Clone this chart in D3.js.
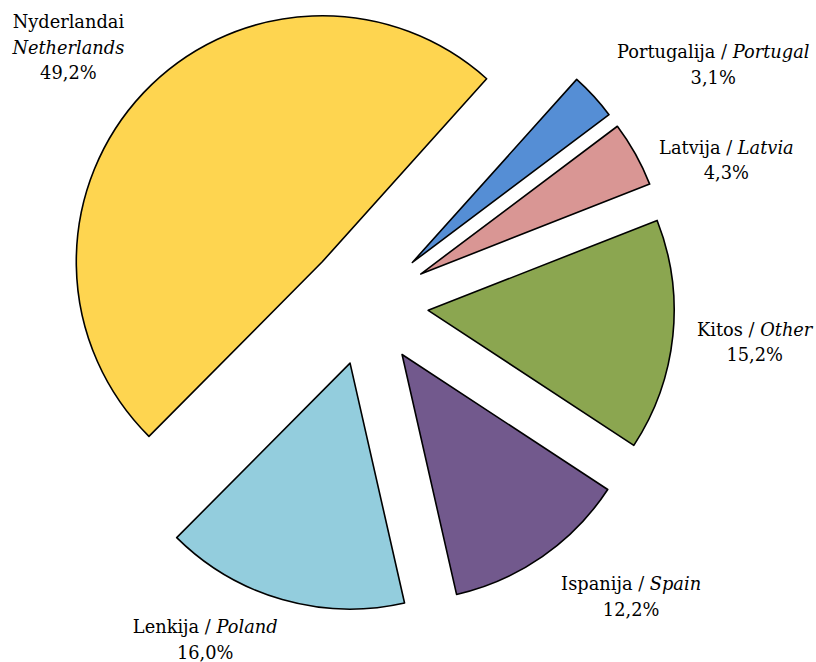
<!DOCTYPE html>
<html>
<head>
<meta charset="utf-8">
<script src="https://cdn.jsdelivr.net/npm/d3@7"></script>
<style>
  html, body { margin: 0; padding: 0; background: #fff; }
  svg { display: block; }
  text { font-family: "DejaVu Serif", "Liberation Serif", serif; font-size: 17.8px; fill: #000; }
</style>
</head>
<body>
<svg id="chart" width="816" height="662"></svg>
<script>
// Export shares by destination country (%)
const categoriesLt = ["Nyderlandai", "Portugalija", "Latvija", "Kitos", "Ispanija", "Lenkija"];
const categoriesEn = ["Netherlands", "Portugal", "Latvia", "Other", "Spain", "Poland"];
const shares = [49.2, 3.1, 4.3, 15.2, 12.2, 16.0];
const sliceColors = ["#FED550", "#558ED5", "#D99694", "#8BA650", "#72598D", "#93CDDD"];

// Layout
const width = 816, height = 662;
const cx = 367, cy = 304;
const radius = 246;
const explode = 0.25 * radius;
const firstAngle = -135.2 * Math.PI / 180;
const labelRadius = radius + explode + 40;
// small nudges of each label block away from its outside-end anchor
const labelNudge = [[-46, -37], [90, -11], [56, 19], [42, -4], [66, 1], [-66, -5]];
const lineHeight = 25.5;

const fmt = v => d3.format(".1f")(v).replace(".", ",") + "%";

const data = shares.map((v, i) => ({ lt: categoriesLt[i], en: categoriesEn[i], value: v, color: sliceColors[i] }));

const pie = d3.pie().sort(null).value(d => d.value)
  .startAngle(firstAngle).endAngle(firstAngle + 2 * Math.PI);
const arc = d3.arc().innerRadius(0).outerRadius(radius);

const svg = d3.select("#chart");
const g = svg.append("g").attr("transform", `translate(${cx},${cy})`);

const arcs = pie(data);
const mid = a => (a.startAngle + a.endAngle) / 2;

g.selectAll("path.slice")
  .data(arcs)
  .join("path")
  .attr("class", "slice")
  .attr("d", arc)
  .attr("transform", a => {
    const m = mid(a);
    return `translate(${explode * Math.sin(m)},${-explode * Math.cos(m)})`;
  })
  .attr("fill", a => a.data.color)
  .attr("stroke", "#000")
  .attr("stroke-width", 1.6)
  .attr("stroke-linejoin", "round");

const labels = g.selectAll("text.label")
  .data(arcs)
  .join("text")
  .attr("class", "label")
  .attr("text-anchor", "middle")
  .attr("transform", (a, i) => {
    const m = mid(a);
    const x = labelRadius * Math.sin(m) + labelNudge[i][0];
    const y = -labelRadius * Math.cos(m) + labelNudge[i][1];
    return `translate(${x},${y})`;
  });

labels.each(function (a) {
  const t = d3.select(this);
  const d = a.data;
  if (d.en === "Netherlands") {
    t.append("tspan").attr("x", 0).attr("dy", 0).text(d.lt);
    t.append("tspan").attr("x", 0).attr("dy", lineHeight).attr("font-style", "italic").text(d.en);
  } else {
    const first = t.append("tspan").attr("x", 0).attr("dy", 0);
    first.append("tspan").text(d.lt + " / ");
    first.append("tspan").attr("font-style", "italic").text(d.en);
  }
  t.append("tspan").attr("x", 0).attr("dy", lineHeight).text(fmt(d.value));
});
</script>
</body>
</html>
